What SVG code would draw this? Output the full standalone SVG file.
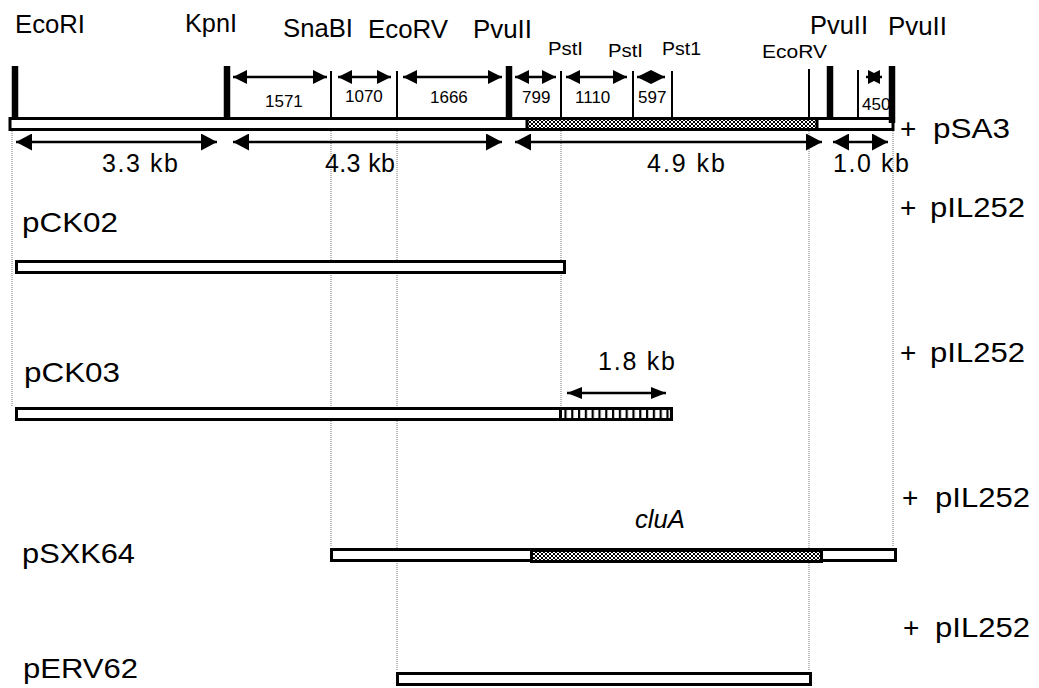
<svg xmlns="http://www.w3.org/2000/svg" width="1039" height="688" viewBox="0 0 1039 688">
<style>
text{font-family:"Liberation Sans",Arial,sans-serif;fill:#000}
.site{font-size:25px}
.sm{font-size:19px}
.num{font-size:17px}
.kb{font-size:25px}
.pl{font-size:28px}
.guide{stroke:#777;stroke-width:1;stroke-dasharray:1 1;fill:none}
.thick{stroke:#000;stroke-width:6.5}
.thin{stroke:#000;stroke-width:2}
.bar{fill:#fff;stroke:#000;stroke-width:3}
.hatch{fill:url(#xhatch);stroke:#000;stroke-width:3}
.arrS{stroke:#000;stroke-width:2.5;fill:none;marker-start:url(#hs);marker-end:url(#hs)}
.arrB{stroke:#000;stroke-width:2.5;fill:none;marker-start:url(#hb);marker-end:url(#hb)}
.arrM{stroke:#000;stroke-width:2.5;fill:none;marker-start:url(#hm);marker-end:url(#hm)}
</style>
<defs>
<pattern id="xhatch" width="4" height="4" patternUnits="userSpaceOnUse">
<rect width="4" height="4" fill="#fff"/>
<path d="M0,0 L4,4 M4,0 L0,4" stroke="#000" stroke-width="1"/>
</pattern>
<pattern id="vstripe" width="6.8" height="10" patternUnits="userSpaceOnUse">
<rect width="6.8" height="10" fill="#fff"/>
<rect x="0" width="2.2" height="10" fill="#000"/>
</pattern>
<marker id="hs" viewBox="0 0 14 14" refX="14" refY="7" markerWidth="14" markerHeight="14" markerUnits="userSpaceOnUse" orient="auto-start-reverse">
<path d="M0,0 L14,7 L0,14 z" fill="#000"/>
</marker>
<marker id="hb" viewBox="0 0 16 17" refX="16" refY="8.5" markerWidth="16" markerHeight="17" markerUnits="userSpaceOnUse" orient="auto-start-reverse">
<path d="M0,0 L16,8.5 L0,17 z" fill="#000"/>
</marker>
<marker id="hm" viewBox="0 0 15 12" refX="15" refY="6" markerWidth="15" markerHeight="12" markerUnits="userSpaceOnUse" orient="auto-start-reverse">
<path d="M0,0 L15,6 L0,12 z" fill="#000"/>
</marker>
</defs>

<g id="guides">
<line class="guide" x1="12" y1="131" x2="12" y2="406"/>
<line class="guide" x1="331" y1="131" x2="331" y2="547"/>
<line class="guide" x1="397" y1="131" x2="397" y2="671"/>
<line class="guide" x1="561" y1="131" x2="561" y2="406"/>
<line class="guide" x1="809" y1="131" x2="809" y2="671"/>
<line class="guide" x1="893" y1="131" x2="893" y2="547"/>
</g>

<g id="pSA3-map">
<rect class="bar" x="10" y="118.5" width="883" height="11"/>
<rect class="hatch" x="527" y="118.5" width="290" height="11"/>
<line class="thick" x1="15" y1="66" x2="15" y2="118"/>
<line class="thick" x1="227" y1="66" x2="227" y2="118"/>
<line class="thin" x1="331" y1="71" x2="331" y2="118"/>
<line class="thin" x1="397" y1="71" x2="397" y2="118"/>
<line class="thick" x1="509" y1="66" x2="509" y2="118"/>
<line class="thin" x1="561" y1="71" x2="561" y2="118"/>
<line class="thin" x1="633" y1="71" x2="633" y2="118"/>
<line class="thin" x1="672" y1="71" x2="672" y2="118"/>
<line class="thin" x1="809" y1="69" x2="809" y2="118"/>
<line class="thick" x1="830" y1="66" x2="830" y2="118"/>
<line class="thin" x1="858" y1="70" x2="858" y2="118"/>
<line class="thick" x1="892" y1="66" x2="892" y2="123"/>
<text class="site" x="15" y="33" textLength="70" lengthAdjust="spacingAndGlyphs">EcoRI</text>
<text class="site" x="185" y="32" textLength="52" lengthAdjust="spacingAndGlyphs">KpnI</text>
<text class="site" x="283" y="37" textLength="70" lengthAdjust="spacingAndGlyphs">SnaBI</text>
<text class="site" x="368" y="38" textLength="80" lengthAdjust="spacingAndGlyphs">EcoRV</text>
<text class="site" x="473" y="38" textLength="59" lengthAdjust="spacingAndGlyphs">PvuII</text>
<text class="sm" x="548" y="55" textLength="35" lengthAdjust="spacingAndGlyphs">PstI</text>
<text class="sm" x="608" y="57" textLength="35" lengthAdjust="spacingAndGlyphs">PstI</text>
<text class="sm" x="662" y="55" textLength="39" lengthAdjust="spacingAndGlyphs">Pst1</text>
<text class="sm" x="762" y="58" textLength="65" lengthAdjust="spacingAndGlyphs">EcoRV</text>
<text class="site" x="810" y="34" textLength="58" lengthAdjust="spacingAndGlyphs">PvuII</text>
<text class="site" x="888" y="35" textLength="59" lengthAdjust="spacingAndGlyphs">PvuII</text>
<text class="num" x="265" y="107">1571</text>
<text class="num" x="345" y="102">1070</text>
<text class="num" x="430" y="103">1666</text>
<text class="num" x="522" y="103">799</text>
<text class="num" x="575" y="103">1110</text>
<text class="num" x="638" y="103">597</text>
<text class="num" x="862" y="110">450</text>
<text class="kb" x="102" y="172" textLength="76" lengthAdjust="spacing">3.3 kb</text>
<text class="kb" x="325" y="172" textLength="70" lengthAdjust="spacing">4.3 kb</text>
<text class="kb" x="647" y="172" textLength="78" lengthAdjust="spacing">4.9 kb</text>
<text class="kb" x="833" y="172" textLength="76" lengthAdjust="spacing">1.0 kb</text>
<text class="pl" x="900" y="138">+ <tspan x="933" textLength="77" lengthAdjust="spacingAndGlyphs">pSA3</tspan></text>
</g>

<g id="connectors">
<line class="arrS" x1="233" y1="77" x2="327" y2="77"/>
<line class="arrS" x1="338" y1="77" x2="391" y2="77"/>
<line class="arrS" x1="403" y1="77" x2="502" y2="77"/>
<line class="arrS" x1="515" y1="77" x2="556" y2="77"/>
<line class="arrS" x1="566" y1="77" x2="627" y2="77"/>
<line class="arrS" x1="637" y1="77" x2="665" y2="77"/>
<line class="arrS" x1="866" y1="77" x2="882" y2="77"/>
<line class="arrB" x1="16" y1="142" x2="217" y2="142"/>
<line class="arrB" x1="233" y1="142" x2="502" y2="142"/>
<line class="arrB" x1="515" y1="142" x2="822" y2="142"/>
<line class="arrB" x1="833" y1="142" x2="888" y2="142"/>
<line class="arrM" x1="567" y1="393" x2="666" y2="393"/>
</g>

<g id="pCK02">
<text class="pl" x="22" y="232" textLength="96" lengthAdjust="spacingAndGlyphs">pCK02</text>
<rect class="bar" x="16.5" y="261.5" width="548" height="11"/>
<text class="pl" x="900" y="217">+ <tspan x="930" textLength="95" lengthAdjust="spacingAndGlyphs">pIL252</tspan></text>
</g>

<g id="pCK03">
<text class="pl" x="24" y="382" textLength="96" lengthAdjust="spacingAndGlyphs">pCK03</text>
<rect class="bar" x="16.5" y="408.5" width="544" height="11"/>
<rect x="560.5" y="408.5" width="111" height="11" fill="url(#vstripe)" stroke="#000" stroke-width="3"/>
<text class="kb" x="598" y="370" textLength="77" lengthAdjust="spacing">1.8 kb</text>
<text class="pl" x="900" y="362">+ <tspan x="930" textLength="95" lengthAdjust="spacingAndGlyphs">pIL252</tspan></text>
</g>

<g id="pSXK64">
<text class="pl" x="22" y="563" textLength="113" lengthAdjust="spacingAndGlyphs">pSXK64</text>
<rect class="bar" x="331.5" y="549.5" width="564" height="11"/>
<rect class="hatch" x="531.5" y="550.5" width="290" height="11"/>
<text x="635" y="528" font-size="25" font-style="italic" textLength="50" lengthAdjust="spacingAndGlyphs">cluA</text>
<text class="pl" x="902" y="507">+ <tspan x="935" textLength="95" lengthAdjust="spacingAndGlyphs">pIL252</tspan></text>
</g>

<g id="pERV62">
<text class="pl" x="23" y="678" textLength="115" lengthAdjust="spacingAndGlyphs">pERV62</text>
<rect class="bar" x="397.5" y="673.5" width="413" height="11"/>
<text class="pl" x="903" y="637">+ <tspan x="935" textLength="95" lengthAdjust="spacingAndGlyphs">pIL252</tspan></text>
</g>
</svg>
